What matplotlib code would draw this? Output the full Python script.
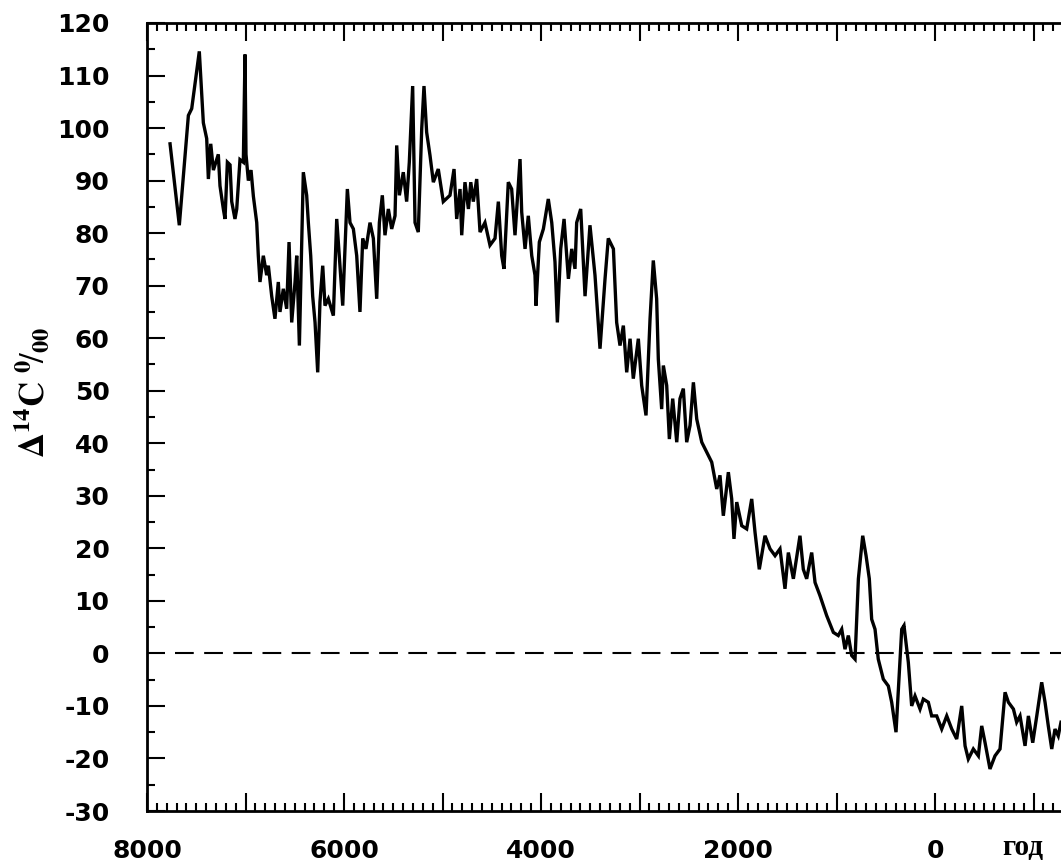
import numpy as np
import matplotlib
matplotlib.use("Agg")
import matplotlib.pyplot as plt
from matplotlib.ticker import MultipleLocator, FuncFormatter

# years (BC positive, AD negative) and delta-14C values
years = [7766, 7672, 7580, 7546, 7469, 7428, 7394, 7377, 7353, 7326, 7276, 7259,
         7225, 7208, 7184, 7157, 7140, 7107, 7089, 7056, 7022, 7005, 6995, 6971,
         6944, 6920, 6886, 6870, 6853, 6819, 6785, 6768, 6734, 6701, 6667, 6650,
         6616, 6582, 6558, 6531, 6497, 6480, 6453, 6429, 6413, 6379, 6362, 6338,
         6318, 6294, 6267, 6244, 6216, 6193, 6159, 6108, 6074, 6048, 6013, 5966,
         5939, 5905, 5871, 5838, 5810, 5777, 5736, 5702, 5668, 5641, 5611, 5584,
         5550, 5516, 5482, 5465, 5438, 5398, 5364, 5337, 5303, 5279, 5246, 5211,
         5188, 5161, 5127, 5093, 5043, 4992, 4924, 4883, 4856, 4822, 4805, 4772,
         4737, 4713, 4687, 4653, 4619, 4569, 4518, 4467, 4433, 4399, 4376, 4332,
         4298, 4264, 4213, 4196, 4162, 4129, 4094, 4061, 4051, 4017, 3976, 3926,
         3891, 3858, 3834, 3800, 3766, 3722, 3688, 3655, 3638, 3597, 3553, 3503,
         3452, 3401, 3350, 3317, 3265, 3232, 3198, 3164, 3130, 3096, 3063, 3012,
         2978, 2934, 2893, 2860, 2826, 2809, 2775, 2758, 2724, 2697, 2663, 2622,
         2589, 2555, 2521, 2487, 2453, 2419, 2368, 2317, 2267, 2216, 2183, 2149,
         2098, 2064, 2041, 2013, 1962, 1912, 1861, 1827, 1784, 1726, 1675, 1624,
         1574, 1523, 1489, 1438, 1371, 1337, 1303, 1252, 1218, 1168, 1100, 1032,
         982, 947, 914, 880, 846, 812, 778, 734, 700, 667, 643, 609,
         576, 525, 474, 440, 396, 372, 338, 315, 271, 237, 203, 152,
         119, 68, 34, -17, -68, -119, -170, -220, -271, -305, -338, -389,
         -440, -474, -508, -558, -609, -660, -711, -745, -796, -829, -863, -914,
         -948, -992, -1033, -1083, -1117, -1150, -1185, -1218, -1251, -1279]

d14c = [97, 81.5, 102.4, 103.7, 114.6, 101, 98, 90.3, 97, 92, 95, 89,
        84.6, 82.7, 93.5, 93, 86, 82.7, 84.6, 94, 93.5, 114, 95, 90,
        92, 87, 82, 75.7, 70.7, 75.7, 72, 73.8, 68, 63.7, 70.7, 65,
        69.4, 65.6, 78.3, 63, 70.7, 75.7, 58.6, 78.3, 91.6, 87.2, 82, 75.7,
        68, 63, 53.5, 66.9, 73.8, 66.2, 67.5, 64.3, 82.7, 75.7, 66.2, 88.4,
        82, 80.8, 75.7, 65, 79, 77, 82, 79, 67.5, 82, 87.2, 79.6,
        84.6, 80.8, 83.3, 96.7, 87.2, 91.6, 86, 93.5, 108, 82, 80.2, 99.9,
        108, 99.2, 94.8, 89.7, 92.2, 86, 87.2, 92.2, 82.7, 88.4, 79.6, 89.7,
        84.6, 89.7, 86, 90.3, 80.2, 82, 77.7, 79, 86, 75.7, 73.2, 89.7,
        88.4, 79.6, 94.1, 84, 77, 83.3, 75.7, 72, 66.2, 78.3, 80.8, 86.5,
        82, 74.5, 63, 77, 82.7, 71.3, 77, 73.2, 82, 84.6, 68, 81.5,
        72, 58, 71.3, 79, 77, 63, 58.6, 62.4, 53.5, 59.9, 52.3, 59.9,
        51, 45.3, 63.7, 74.8, 67.5, 56, 46.5, 54.8, 51, 40.8, 48.5, 40.2,
        48.5, 50.4, 40.2, 43.4, 51.6, 44.6, 40.2, 38.3, 36.4, 31.3, 33.9, 26.2,
        34.5, 29.4, 21.8, 28.8, 24.3, 23.7, 29.4, 23, 16, 22.4, 19.9, 18.6,
        19.9, 12.3, 19.2, 14.2, 22.4, 16, 14.2, 19.2, 13.5, 11, 7.2, 4,
        3.4, 4.6, 0.8, 3.4, -0.4, -1.1, 14.2, 22.4, 18.6, 14.2, 6.5, 4.6,
        -1.1, -4.9, -6.2, -9.3, -15, -6.8, 4.6, 5.3, -1.7, -10, -8.1, -10.6,
        -8.7, -9.3, -11.9, -11.9, -14.4, -11.9, -14.4, -16.3, -10, -17.6, -20.1, -18.2,
        -19.5, -13.8, -17, -22, -19.5, -18.2, -7.4, -9.3, -10.6, -13.1, -11.9, -17.6,
        -11.9, -17, -11.9, -5.5, -9.3, -13.8, -18.2, -14.4, -15.7, -13.1]

fig = plt.figure(figsize=(10.61, 8.63), dpi=100)
ax = fig.add_axes([147 / 1061, 52 / 863, 1 - 147 / 1061, 788 / 863])

ax.plot(years, d14c, color="black", lw=2.4, solid_joinstyle="miter")
ax.hlines(0, 7720, -1279, color="black", lw=1.5, linestyles=(0, (9, 5)))

ax.set_xlim(8000, -1279)
ax.set_ylim(-30, 120)

# ticks: inward, x on top and bottom
ax.xaxis.set_major_locator(MultipleLocator(1000))
ax.xaxis.set_minor_locator(MultipleLocator(100))
ax.yaxis.set_major_locator(MultipleLocator(10))
ax.yaxis.set_minor_locator(MultipleLocator(5))
ax.xaxis.set_major_formatter(FuncFormatter(lambda v, p: f"{int(v)}" if int(v) % 2000 == 0 else ""))
ax.yaxis.set_major_formatter(FuncFormatter(lambda v, p: f"{int(v)}"))

ax.tick_params(axis="x", which="both", direction="in", top=True, bottom=True, width=1.5)
ax.tick_params(axis="y", which="both", direction="in", left=True, right=False, width=1.5)
ax.tick_params(which="major", length=13)
ax.tick_params(which="minor", length=6)
ax.tick_params(axis="x", pad=20)
ax.tick_params(axis="y", pad=27)

for lab in ax.get_xticklabels() + ax.get_yticklabels():
    lab.set_fontsize(18)
    lab.set_fontweight("bold")
    lab.set_family("DejaVu Sans")

for side in ["left", "bottom", "top"]:
    ax.spines[side].set_linewidth(2)
ax.spines["right"].set_visible(False)

plt.rcParams["mathtext.fontset"] = "stix"
fig.text(0.030, 0.545, r"$\mathbf{\Delta^{14}C}\ ^{\mathbf{0}}\!/_{\mathbf{00}}$",
         rotation=90, fontsize=25, ha="center", va="center")
fig.text(1023 / 1061, 1 - 847 / 863, "год", fontsize=21, fontweight="bold",
         family="Liberation Serif", ha="center", va="center")

fig.savefig("out.png", dpi=100)
